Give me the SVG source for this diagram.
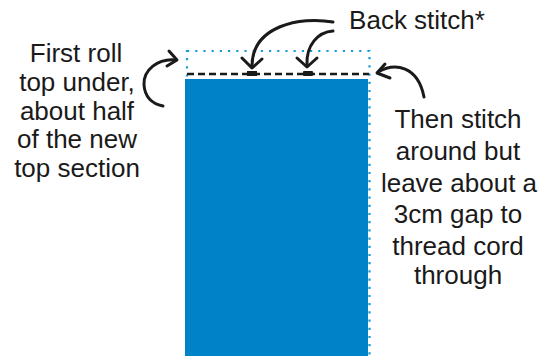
<svg xmlns="http://www.w3.org/2000/svg" width="543" height="356" viewBox="0 0 543 356">
<style>
.lbl{font-family:"Liberation Sans","DejaVu Sans",sans-serif;font-size:26px;fill:#1a1a1a;text-anchor:middle}
.arr{fill:none;stroke:#1a1a1a;stroke-width:3;stroke-linecap:round;stroke-linejoin:round}
</style>
<rect width="543" height="356" fill="#ffffff"/>
<g id="fabric">
<rect x="187" y="51" width="182.5" height="310" fill="none" stroke="#1a9ad6" stroke-width="2.2" stroke-dasharray="2.2 6"/>
<rect x="185" y="79" width="183" height="277" fill="#0082c8"/>
<line x1="187" y1="74" x2="369" y2="74" stroke="#1a1a1a" stroke-width="2.5" stroke-dasharray="7 4"/>
<rect x="247" y="71" width="10" height="5" fill="#1a1a1a"/>
<rect x="303" y="71" width="10" height="5" rx="1" fill="#1a1a1a"/>
</g>
<g id="connectors">
<path class="arr" d="M333,22 C300,16 252,26 252,66"/>
<path class="arr" d="M242,58 L252,68 L262,59"/>
<path class="arr" d="M333,31 C318,32 306,45 307,65"/>
<path class="arr" d="M297,58 L307,67 L317,58"/>
<path class="arr" d="M176,60 C158,58 143,70 144,85 C145,98 153,104 163,106"/>
<path class="arr" d="M169,51 L177,60 L167,66"/>
<path class="arr" d="M378,72 C395,62 418,66 424,97"/>
<path class="arr" d="M385,64 L377,73 L390,78"/>
</g>
<g id="label-back">
<text class="lbl" x="417" y="29">Back stitch*</text>
</g>
<g id="label-left">
<text class="lbl" x="76" y="62">First roll</text>
<text class="lbl" x="77" y="91">top under,</text>
<text class="lbl" x="77" y="120">about half</text>
<text class="lbl" x="77" y="148">of the new</text>
<text class="lbl" x="77" y="177">top section</text>
</g>
<g id="label-right">
<text class="lbl" x="458" y="128">Then stitch</text>
<text class="lbl" x="458" y="160">around but</text>
<text class="lbl" x="459" y="192">leave about a</text>
<text class="lbl" x="458" y="223">3cm gap to</text>
<text class="lbl" x="458" y="255">thread cord</text>
<text class="lbl" x="458" y="284">through</text>
</g>
</svg>
